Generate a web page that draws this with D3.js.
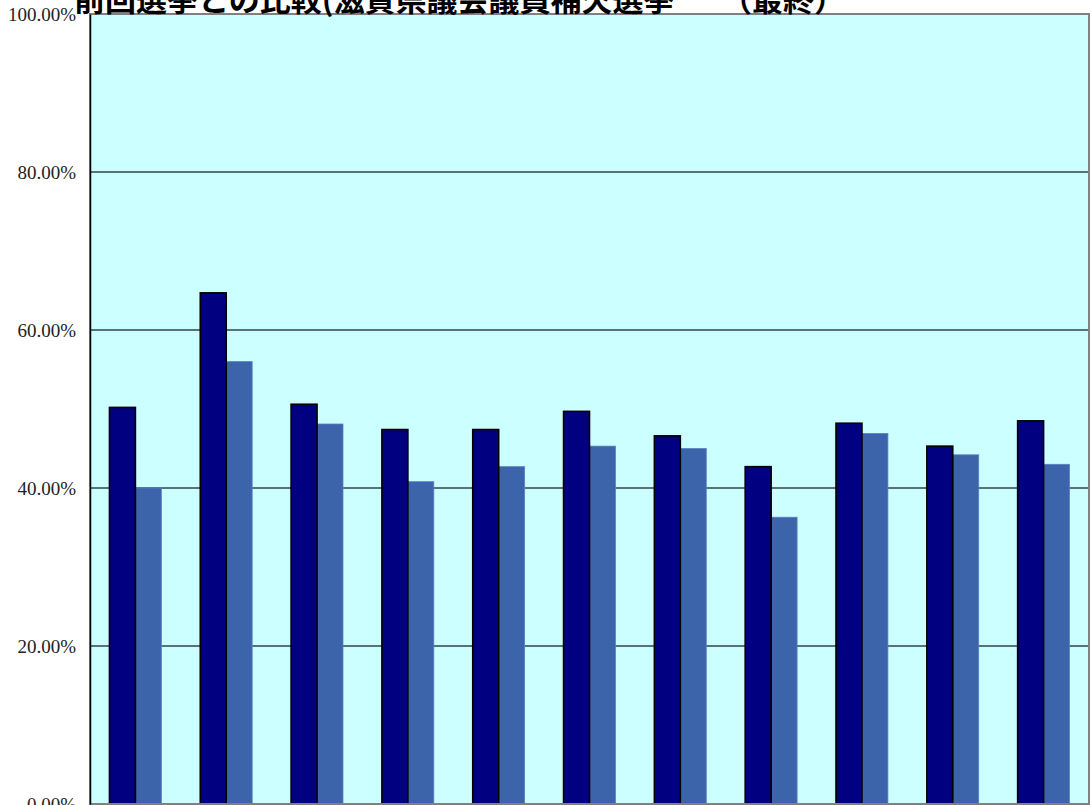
<!DOCTYPE html>
<html>
<head>
<meta charset="utf-8">
<script src="https://cdn.jsdelivr.net/npm/d3@7"></script>
<style>
  body { margin: 0; background: #fff; }
  svg { display: block; }
  .y-axis text { font-family: "Liberation Serif", "DejaVu Serif", serif; font-size: 19px; }
</style>
</head>
<body>
<svg id="chart" width="1092" height="805"></svg>
<script>
// data (turnout, %)
const categories = ['1', '2', '3', '4', '5', '6', '7', '8', '9', '10', '11'];
const current = [50.2, 64.7, 50.6, 47.4, 47.4, 49.7, 46.6, 42.7, 48.2, 45.3, 48.5];
const previous = [40.0, 56.0, 48.1, 40.8, 42.7, 45.3, 45.0, 36.3, 46.9, 44.2, 43.0];
const yTicks = [0, 20, 40, 60, 80, 100];
const titleText = '前回選挙との比較(滋賀県議会議員補欠選挙　　（最終）';

const svg = d3.select('#chart');
const plot = { left: 90, top: 14, right: 1089, bottom: 804 };

const x = d3.scaleBand()
	.domain(categories)
	.range([plot.left, plot.right])
	.paddingInner(0)
	.paddingOuter(0);

const y = d3.scaleLinear()
	.domain([0, 100])
	.range([plot.bottom, plot.top]);

const barW = x.bandwidth() / 3.5;

// plot background
svg.append('rect')
	.attr('x', plot.left)
	.attr('y', plot.top)
	.attr('width', plot.right - plot.left)
	.attr('height', plot.bottom - plot.top)
	.attr('fill', '#ccffff');

// gridlines
svg.append('g')
	.selectAll('line')
	.data(yTicks.filter(d => d > 0 && d < 100))
	.join('line')
		.attr('x1', plot.left)
		.attr('x2', plot.right)
		.attr('y1', d => y(d))
		.attr('y2', d => y(d))
		.attr('stroke', '#334444')
		.attr('stroke-width', 1.3);

// bars
const groups = svg.append('g')
	.selectAll('g')
	.data(categories)
	.join('g')
		.attr('transform', d => `translate(${x(d) + x.bandwidth() / 2}, 0)`);

groups.append('rect')
	.attr('x', 0)
	.attr('y', (d, i) => y(previous[i]))
	.attr('width', barW)
	.attr('height', (d, i) => y(0) - y(previous[i]))
	.attr('fill', '#3c64aa')
	.attr('stroke', '#5a80c0')
	.attr('stroke-width', 0.8);

groups.append('rect')
	.attr('x', -barW)
	.attr('y', (d, i) => y(current[i]))
	.attr('width', barW)
	.attr('height', (d, i) => y(0) - y(current[i]))
	.attr('fill', '#000080')
	.attr('stroke', '#000')
	.attr('stroke-width', 1.6);

// plot border
svg.append('rect')
	.attr('x', plot.left)
	.attr('y', plot.top)
	.attr('width', plot.right - plot.left)
	.attr('height', plot.bottom - plot.top)
	.attr('fill', 'none')
	.attr('stroke', '#808080')
	.attr('stroke-width', 2);

// y axis
const yAxis = d3.axisLeft(y)
	.tickValues(yTicks)
	.tickSize(0)
	.tickPadding(14)
	.tickFormat(d => d3.format('.2f')(d) + '%');

svg.append('g')
	.attr('class', 'y-axis')
	.attr('transform', `translate(${plot.left}, 0)`)
	.call(yAxis)
	.call(g => g.attr('font-family', null).attr('font-size', null))
	.call(g => g.select('.domain').attr('stroke', '#000').attr('stroke-width', 1.5))
	.call(g => g.selectAll('text').attr('fill', '#222'));

// title (clipped at the top, as in the reference)
svg.append('text')
	.attr('x', 74)
	.attr('y', 11)
	.attr('font-family', '"Noto Sans CJK JP", sans-serif')
	.attr('font-weight', 'bold')
	.attr('font-size', 31)
	.attr('fill', '#000')
	.text(titleText);
</script>
</body>
</html>
